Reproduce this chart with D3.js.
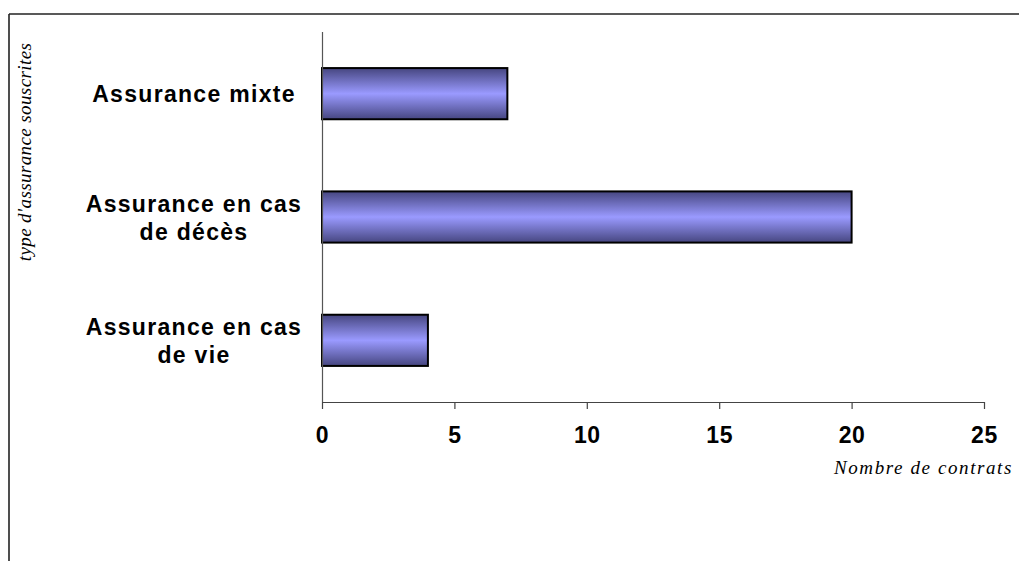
<!DOCTYPE html>
<html>
<head>
<meta charset="utf-8">
<script src="https://cdn.jsdelivr.net/npm/d3@7"></script>
<style>
  html, body { margin: 0; padding: 0; background: #fff; }
  svg { display: block; }
</style>
</head>
<body>
<script>
const categories = [["Assurance mixte"], ["Assurance en cas", "de décès"], ["Assurance en cas", "de vie"]];
const categoryKeys = ["Assurance mixte", "Assurance en cas de décès", "Assurance en cas de vie"];
const values = [7, 20, 4];
const xTicks = [0, 5, 10, 15, 20, 25];
const xTitle = "Nombre de contrats";
const yTitle = "type d'assurance souscrites";

const W = 1019, H = 561;
const svg = d3.select("body").append("svg").attr("width", W).attr("height", H);

const defs = svg.append("defs");
const grad = defs.append("linearGradient").attr("id", "barGrad")
  .attr("x1", 0).attr("y1", 0).attr("x2", 0).attr("y2", 1);
grad.append("stop").attr("offset", "0%").attr("stop-color", "#464680");
grad.append("stop").attr("offset", "50%").attr("stop-color", "#9a9aff");
grad.append("stop").attr("offset", "100%").attr("stop-color", "#464680");

// outer frame (top and left)
svg.append("line").attr("x1", 9).attr("x2", W).attr("y1", 14).attr("y2", 14)
  .attr("stroke", "#222").attr("stroke-width", 1.6);
svg.append("line").attr("x1", 9).attr("x2", 9).attr("y1", 14).attr("y2", H)
  .attr("stroke", "#222").attr("stroke-width", 1.6);

const plot = { left: 322, right: 984, top: 32, bottom: 402 };

const x = d3.scaleLinear().domain([0, 25]).range([plot.left, plot.right]);
const y = d3.scaleBand().domain(categoryKeys).range([plot.top, plot.bottom])
  .paddingInner(0.585).paddingOuter(0.2925);

// bars
svg.append("g").selectAll("rect").data(values).join("rect")
  .attr("x", x(0))
  .attr("y", (d, i) => y(categoryKeys[i]))
  .attr("width", d => x(d) - x(0))
  .attr("height", y.bandwidth())
  .attr("fill", "url(#barGrad)")
  .attr("stroke", "#000")
  .attr("stroke-width", 2);

// y axis line
svg.append("line").attr("x1", plot.left + 0.5).attr("x2", plot.left + 0.5)
  .attr("y1", plot.top).attr("y2", plot.bottom)
  .attr("stroke", "#555").attr("stroke-width", 1.2);

// x axis
const xAxis = d3.axisBottom(x).tickValues(xTicks).tickSize(7).tickPadding(18).tickSizeOuter(0);
const gx = svg.append("g").attr("transform", `translate(0,${plot.bottom})`).call(xAxis);
gx.select(".domain").attr("stroke", "#444").attr("stroke-width", 1.2);
gx.selectAll(".tick line").attr("stroke", "#444").attr("stroke-width", 1.2);
gx.selectAll(".tick text")
  .attr("fill", "#000")
  .style("font-family", "'Liberation Sans', Arial, sans-serif")
  .style("font-weight", "bold")
  .style("font-size", "23px")
  .style("letter-spacing", "0.6px");

// category labels
const labelG = svg.append("g");
categories.forEach((lines, i) => {
  const c = y(categoryKeys[i]) + y.bandwidth() / 2;
  const lh = 28;
  const t = labelG.append("text")
    .attr("text-anchor", "middle")
    .style("font-family", "'Liberation Sans', Arial, sans-serif")
    .style("font-weight", "bold")
    .style("font-size", "23px")
    .style("letter-spacing", "1.3px")
    .attr("fill", "#000");
  lines.forEach((ln, j) => {
    const capCenter = c + (j - (lines.length - 1) / 2) * lh;
    t.append("tspan").attr("x", 194).attr("y", capCenter + 8.5).text(ln);
  });
});

// x title
svg.append("text")
  .attr("x", 1013).attr("y", 474)
  .attr("text-anchor", "end")
  .style("font-family", "'Liberation Serif', 'Times New Roman', serif")
  .style("font-style", "italic")
  .style("font-size", "19px")
  .style("letter-spacing", "1.6px")
  .attr("fill", "#000")
  .text(xTitle);

// y title
svg.append("text")
  .attr("transform", "translate(31,152) rotate(-90)")
  .attr("text-anchor", "middle")
  .style("font-family", "'Liberation Serif', 'Times New Roman', serif")
  .style("font-style", "italic")
  .style("font-size", "19px")
  .style("letter-spacing", "0.4px")
  .attr("fill", "#000")
  .text(yTitle);
</script>
</body>
</html>
